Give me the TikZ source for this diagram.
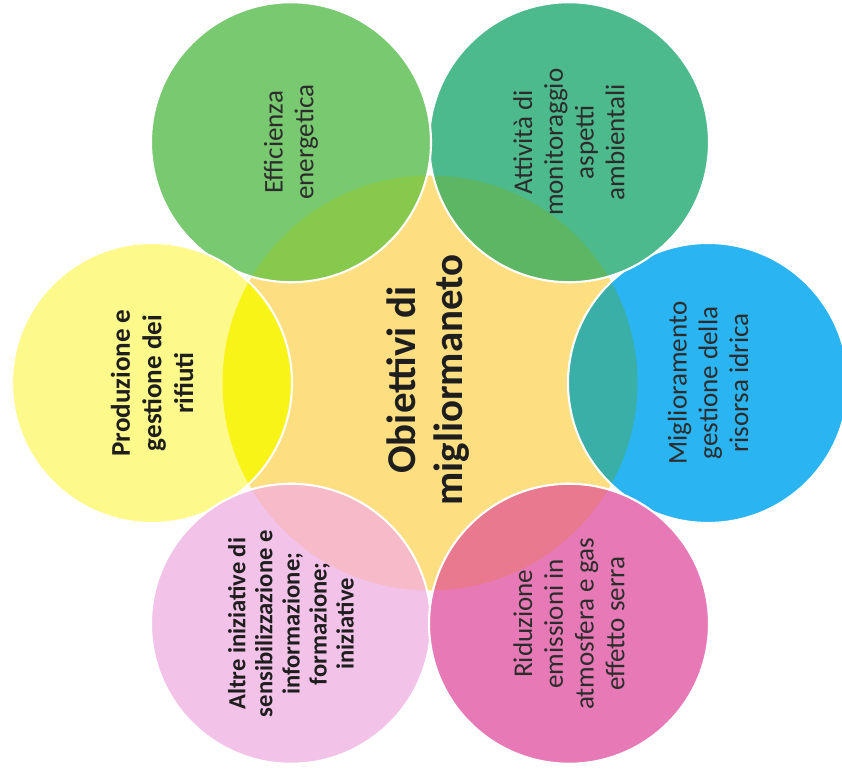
\documentclass[tikz,border=0pt]{standalone}
\usepackage{fontspec}
\setmainfont{Carlito}
\usepackage{tikz}
\usetikzlibrary{positioning}
\definecolor{obicentre}{HTML}{FDDF82}
\definecolor{obigreen}{HTML}{78C970}
\definecolor{obigreenov}{HTML}{86C94C}
\definecolor{obiteal}{HTML}{4DBA8D}
\definecolor{obitealov}{HTML}{5CB664}
\definecolor{obiblue}{HTML}{2BB4F2}
\definecolor{obiblueov}{HTML}{3AAFA8}
\definecolor{obipink}{HTML}{E77AB6}
\definecolor{obipinkov}{HTML}{E8798F}
\definecolor{obirose}{HTML}{F2C2E8}
\definecolor{obiroseov}{HTML}{F6BAC8}
\definecolor{obiyellow}{HTML}{FDF98A}
\definecolor{obiyellowov}{HTML}{F8F418}
\definecolor{obitext}{HTML}{2C2C2C}
\definecolor{obidark}{HTML}{1E1E1E}

\begin{document}
\begin{tikzpicture}[
    x=1cm,y=1cm,
    petal/.style = {draw=white,line width=1.2pt},
    lbl/.style   = {rotate=90,align=center,text=obitext,
                    font=\fontsize{15.4}{17.5}\selectfont},
    lblb/.style  = {rotate=90,align=center,text=obidark,
                    font=\fontsize{15.4}{18}\selectfont\bfseries},
  ]
  \useasboundingbox (-8.6,-7.94) rectangle (8.24,7.66);
  \clip (-8.6,-7.94) rectangle (8.24,7.66);

  \fill[obicentre] (0,0) circle (4.15);

  \foreach \a/\c in {0/obiblue,60/obiteal,120/obigreen,180/obiyellow,
                     240/obirose,300/obipink}{
    \fill[\c] (\a:5.56) circle (2.8);
    \begin{scope}
      \clip (0,0) circle (4.15);
      \fill[\c ov] (\a:5.56) circle (2.8);
    \end{scope}
    \draw[petal] (\a:5.56) circle (2.8);
  }

  \node[rotate=90,align=center,text=obidark,
        font=\fontsize{23.3}{26.7}\selectfont\bfseries] (obj) at (-0.04,0.06)
       {Obiettivi di\\migliormaneto};

  \node[lbl]  (eff) at (120:5.56) {Efficienza\\energetica};
  \node[lbl]  (mon) at (60:5.56)  {Attività di\\monitoraggio\\aspetti\\ambientali};
  \node[lbl]  (idr) at (0:5.56)   {Miglioramento\\gestione della\\risorsa idrica};
  \node[lbl]  (emi) at (300:5.56) {Riduzione\\emissioni in\\atmosfera e gas\\effetto serra};
  \node[lblb] (rif) at (180:5.56) {Produzione e\\gestione dei\\rifiuti};
  \node[lblb,font=\fontsize{14}{15.4}\selectfont\bfseries] (alt) at (240:5.56)
       {Altre iniziative di\\sensibilizzazione e\\informazione;\\formazione;\\iniziative};

\end{tikzpicture}
\end{document}
